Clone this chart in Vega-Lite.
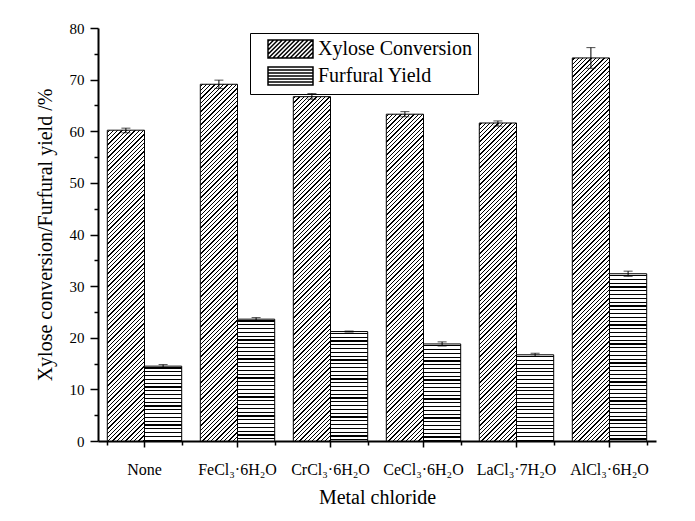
{
"$schema": "https://vega.github.io/schema/vega-lite/v6.json",
"autosize": {"type": "none"},
"padding": {"left": 98, "top": 28, "right": 39, "bottom": 80},
"width": 558,
"height": 413,
"background": "white",
"config": {"view": {"stroke": null}, "font": "Liberation Serif", "axis": {"grid": false}},
"params": [{"name": "hatch", "value": [
{"offset":0.0035,"color":"#fff"},{"offset":0.0035,"color":"#000"},{"offset":0.0065,"color":"#000"},{"offset":0.0065,"color":"#fff"},
{"offset":0.0135,"color":"#fff"},{"offset":0.0135,"color":"#000"},{"offset":0.0165,"color":"#000"},{"offset":0.0165,"color":"#fff"},
{"offset":0.0235,"color":"#fff"},{"offset":0.0235,"color":"#000"},{"offset":0.0265,"color":"#000"},{"offset":0.0265,"color":"#fff"},
{"offset":0.0335,"color":"#fff"},{"offset":0.0335,"color":"#000"},{"offset":0.0365,"color":"#000"},{"offset":0.0365,"color":"#fff"},
{"offset":0.0435,"color":"#fff"},{"offset":0.0435,"color":"#000"},{"offset":0.0465,"color":"#000"},{"offset":0.0465,"color":"#fff"},
{"offset":0.0535,"color":"#fff"},{"offset":0.0535,"color":"#000"},{"offset":0.0565,"color":"#000"},{"offset":0.0565,"color":"#fff"},
{"offset":0.0635,"color":"#fff"},{"offset":0.0635,"color":"#000"},{"offset":0.0665,"color":"#000"},{"offset":0.0665,"color":"#fff"},
{"offset":0.0735,"color":"#fff"},{"offset":0.0735,"color":"#000"},{"offset":0.0765,"color":"#000"},{"offset":0.0765,"color":"#fff"},
{"offset":0.0835,"color":"#fff"},{"offset":0.0835,"color":"#000"},{"offset":0.0865,"color":"#000"},{"offset":0.0865,"color":"#fff"},
{"offset":0.0935,"color":"#fff"},{"offset":0.0935,"color":"#000"},{"offset":0.0965,"color":"#000"},{"offset":0.0965,"color":"#fff"},
{"offset":0.1035,"color":"#fff"},{"offset":0.1035,"color":"#000"},{"offset":0.1065,"color":"#000"},{"offset":0.1065,"color":"#fff"},
{"offset":0.1135,"color":"#fff"},{"offset":0.1135,"color":"#000"},{"offset":0.1165,"color":"#000"},{"offset":0.1165,"color":"#fff"},
{"offset":0.1235,"color":"#fff"},{"offset":0.1235,"color":"#000"},{"offset":0.1265,"color":"#000"},{"offset":0.1265,"color":"#fff"},
{"offset":0.1335,"color":"#fff"},{"offset":0.1335,"color":"#000"},{"offset":0.1365,"color":"#000"},{"offset":0.1365,"color":"#fff"},
{"offset":0.1435,"color":"#fff"},{"offset":0.1435,"color":"#000"},{"offset":0.1465,"color":"#000"},{"offset":0.1465,"color":"#fff"},
{"offset":0.1535,"color":"#fff"},{"offset":0.1535,"color":"#000"},{"offset":0.1565,"color":"#000"},{"offset":0.1565,"color":"#fff"},
{"offset":0.1635,"color":"#fff"},{"offset":0.1635,"color":"#000"},{"offset":0.1665,"color":"#000"},{"offset":0.1665,"color":"#fff"},
{"offset":0.1735,"color":"#fff"},{"offset":0.1735,"color":"#000"},{"offset":0.1765,"color":"#000"},{"offset":0.1765,"color":"#fff"},
{"offset":0.1835,"color":"#fff"},{"offset":0.1835,"color":"#000"},{"offset":0.1865,"color":"#000"},{"offset":0.1865,"color":"#fff"},
{"offset":0.1935,"color":"#fff"},{"offset":0.1935,"color":"#000"},{"offset":0.1965,"color":"#000"},{"offset":0.1965,"color":"#fff"},
{"offset":0.2035,"color":"#fff"},{"offset":0.2035,"color":"#000"},{"offset":0.2065,"color":"#000"},{"offset":0.2065,"color":"#fff"},
{"offset":0.2135,"color":"#fff"},{"offset":0.2135,"color":"#000"},{"offset":0.2165,"color":"#000"},{"offset":0.2165,"color":"#fff"},
{"offset":0.2235,"color":"#fff"},{"offset":0.2235,"color":"#000"},{"offset":0.2265,"color":"#000"},{"offset":0.2265,"color":"#fff"},
{"offset":0.2335,"color":"#fff"},{"offset":0.2335,"color":"#000"},{"offset":0.2365,"color":"#000"},{"offset":0.2365,"color":"#fff"},
{"offset":0.2435,"color":"#fff"},{"offset":0.2435,"color":"#000"},{"offset":0.2465,"color":"#000"},{"offset":0.2465,"color":"#fff"},
{"offset":0.2535,"color":"#fff"},{"offset":0.2535,"color":"#000"},{"offset":0.2565,"color":"#000"},{"offset":0.2565,"color":"#fff"},
{"offset":0.2635,"color":"#fff"},{"offset":0.2635,"color":"#000"},{"offset":0.2665,"color":"#000"},{"offset":0.2665,"color":"#fff"},
{"offset":0.2735,"color":"#fff"},{"offset":0.2735,"color":"#000"},{"offset":0.2765,"color":"#000"},{"offset":0.2765,"color":"#fff"},
{"offset":0.2835,"color":"#fff"},{"offset":0.2835,"color":"#000"},{"offset":0.2865,"color":"#000"},{"offset":0.2865,"color":"#fff"},
{"offset":0.2935,"color":"#fff"},{"offset":0.2935,"color":"#000"},{"offset":0.2965,"color":"#000"},{"offset":0.2965,"color":"#fff"},
{"offset":0.3035,"color":"#fff"},{"offset":0.3035,"color":"#000"},{"offset":0.3065,"color":"#000"},{"offset":0.3065,"color":"#fff"},
{"offset":0.3135,"color":"#fff"},{"offset":0.3135,"color":"#000"},{"offset":0.3165,"color":"#000"},{"offset":0.3165,"color":"#fff"},
{"offset":0.3235,"color":"#fff"},{"offset":0.3235,"color":"#000"},{"offset":0.3265,"color":"#000"},{"offset":0.3265,"color":"#fff"},
{"offset":0.3335,"color":"#fff"},{"offset":0.3335,"color":"#000"},{"offset":0.3365,"color":"#000"},{"offset":0.3365,"color":"#fff"},
{"offset":0.3435,"color":"#fff"},{"offset":0.3435,"color":"#000"},{"offset":0.3465,"color":"#000"},{"offset":0.3465,"color":"#fff"},
{"offset":0.3535,"color":"#fff"},{"offset":0.3535,"color":"#000"},{"offset":0.3565,"color":"#000"},{"offset":0.3565,"color":"#fff"},
{"offset":0.3635,"color":"#fff"},{"offset":0.3635,"color":"#000"},{"offset":0.3665,"color":"#000"},{"offset":0.3665,"color":"#fff"},
{"offset":0.3735,"color":"#fff"},{"offset":0.3735,"color":"#000"},{"offset":0.3765,"color":"#000"},{"offset":0.3765,"color":"#fff"},
{"offset":0.3835,"color":"#fff"},{"offset":0.3835,"color":"#000"},{"offset":0.3865,"color":"#000"},{"offset":0.3865,"color":"#fff"},
{"offset":0.3935,"color":"#fff"},{"offset":0.3935,"color":"#000"},{"offset":0.3965,"color":"#000"},{"offset":0.3965,"color":"#fff"},
{"offset":0.4035,"color":"#fff"},{"offset":0.4035,"color":"#000"},{"offset":0.4065,"color":"#000"},{"offset":0.4065,"color":"#fff"},
{"offset":0.4135,"color":"#fff"},{"offset":0.4135,"color":"#000"},{"offset":0.4165,"color":"#000"},{"offset":0.4165,"color":"#fff"},
{"offset":0.4235,"color":"#fff"},{"offset":0.4235,"color":"#000"},{"offset":0.4265,"color":"#000"},{"offset":0.4265,"color":"#fff"},
{"offset":0.4335,"color":"#fff"},{"offset":0.4335,"color":"#000"},{"offset":0.4365,"color":"#000"},{"offset":0.4365,"color":"#fff"},
{"offset":0.4435,"color":"#fff"},{"offset":0.4435,"color":"#000"},{"offset":0.4465,"color":"#000"},{"offset":0.4465,"color":"#fff"},
{"offset":0.4535,"color":"#fff"},{"offset":0.4535,"color":"#000"},{"offset":0.4565,"color":"#000"},{"offset":0.4565,"color":"#fff"},
{"offset":0.4635,"color":"#fff"},{"offset":0.4635,"color":"#000"},{"offset":0.4665,"color":"#000"},{"offset":0.4665,"color":"#fff"},
{"offset":0.4735,"color":"#fff"},{"offset":0.4735,"color":"#000"},{"offset":0.4765,"color":"#000"},{"offset":0.4765,"color":"#fff"},
{"offset":0.4835,"color":"#fff"},{"offset":0.4835,"color":"#000"},{"offset":0.4865,"color":"#000"},{"offset":0.4865,"color":"#fff"},
{"offset":0.4935,"color":"#fff"},{"offset":0.4935,"color":"#000"},{"offset":0.4965,"color":"#000"},{"offset":0.4965,"color":"#fff"},
{"offset":0.5035,"color":"#fff"},{"offset":0.5035,"color":"#000"},{"offset":0.5065,"color":"#000"},{"offset":0.5065,"color":"#fff"},
{"offset":0.5135,"color":"#fff"},{"offset":0.5135,"color":"#000"},{"offset":0.5165,"color":"#000"},{"offset":0.5165,"color":"#fff"},
{"offset":0.5235,"color":"#fff"},{"offset":0.5235,"color":"#000"},{"offset":0.5265,"color":"#000"},{"offset":0.5265,"color":"#fff"},
{"offset":0.5335,"color":"#fff"},{"offset":0.5335,"color":"#000"},{"offset":0.5365,"color":"#000"},{"offset":0.5365,"color":"#fff"},
{"offset":0.5435,"color":"#fff"},{"offset":0.5435,"color":"#000"},{"offset":0.5465,"color":"#000"},{"offset":0.5465,"color":"#fff"},
{"offset":0.5535,"color":"#fff"},{"offset":0.5535,"color":"#000"},{"offset":0.5565,"color":"#000"},{"offset":0.5565,"color":"#fff"},
{"offset":0.5635,"color":"#fff"},{"offset":0.5635,"color":"#000"},{"offset":0.5665,"color":"#000"},{"offset":0.5665,"color":"#fff"},
{"offset":0.5735,"color":"#fff"},{"offset":0.5735,"color":"#000"},{"offset":0.5765,"color":"#000"},{"offset":0.5765,"color":"#fff"},
{"offset":0.5835,"color":"#fff"},{"offset":0.5835,"color":"#000"},{"offset":0.5865,"color":"#000"},{"offset":0.5865,"color":"#fff"},
{"offset":0.5935,"color":"#fff"},{"offset":0.5935,"color":"#000"},{"offset":0.5965,"color":"#000"},{"offset":0.5965,"color":"#fff"},
{"offset":0.6035,"color":"#fff"},{"offset":0.6035,"color":"#000"},{"offset":0.6065,"color":"#000"},{"offset":0.6065,"color":"#fff"},
{"offset":0.6135,"color":"#fff"},{"offset":0.6135,"color":"#000"},{"offset":0.6165,"color":"#000"},{"offset":0.6165,"color":"#fff"},
{"offset":0.6235,"color":"#fff"},{"offset":0.6235,"color":"#000"},{"offset":0.6265,"color":"#000"},{"offset":0.6265,"color":"#fff"},
{"offset":0.6335,"color":"#fff"},{"offset":0.6335,"color":"#000"},{"offset":0.6365,"color":"#000"},{"offset":0.6365,"color":"#fff"},
{"offset":0.6435,"color":"#fff"},{"offset":0.6435,"color":"#000"},{"offset":0.6465,"color":"#000"},{"offset":0.6465,"color":"#fff"},
{"offset":0.6535,"color":"#fff"},{"offset":0.6535,"color":"#000"},{"offset":0.6565,"color":"#000"},{"offset":0.6565,"color":"#fff"},
{"offset":0.6635,"color":"#fff"},{"offset":0.6635,"color":"#000"},{"offset":0.6665,"color":"#000"},{"offset":0.6665,"color":"#fff"},
{"offset":0.6735,"color":"#fff"},{"offset":0.6735,"color":"#000"},{"offset":0.6765,"color":"#000"},{"offset":0.6765,"color":"#fff"},
{"offset":0.6835,"color":"#fff"},{"offset":0.6835,"color":"#000"},{"offset":0.6865,"color":"#000"},{"offset":0.6865,"color":"#fff"},
{"offset":0.6935,"color":"#fff"},{"offset":0.6935,"color":"#000"},{"offset":0.6965,"color":"#000"},{"offset":0.6965,"color":"#fff"},
{"offset":0.7035,"color":"#fff"},{"offset":0.7035,"color":"#000"},{"offset":0.7065,"color":"#000"},{"offset":0.7065,"color":"#fff"},
{"offset":0.7135,"color":"#fff"},{"offset":0.7135,"color":"#000"},{"offset":0.7165,"color":"#000"},{"offset":0.7165,"color":"#fff"},
{"offset":0.7235,"color":"#fff"},{"offset":0.7235,"color":"#000"},{"offset":0.7265,"color":"#000"},{"offset":0.7265,"color":"#fff"},
{"offset":0.7335,"color":"#fff"},{"offset":0.7335,"color":"#000"},{"offset":0.7365,"color":"#000"},{"offset":0.7365,"color":"#fff"},
{"offset":0.7435,"color":"#fff"},{"offset":0.7435,"color":"#000"},{"offset":0.7465,"color":"#000"},{"offset":0.7465,"color":"#fff"},
{"offset":0.7535,"color":"#fff"},{"offset":0.7535,"color":"#000"},{"offset":0.7565,"color":"#000"},{"offset":0.7565,"color":"#fff"},
{"offset":0.7635,"color":"#fff"},{"offset":0.7635,"color":"#000"},{"offset":0.7665,"color":"#000"},{"offset":0.7665,"color":"#fff"},
{"offset":0.7735,"color":"#fff"},{"offset":0.7735,"color":"#000"},{"offset":0.7765,"color":"#000"},{"offset":0.7765,"color":"#fff"},
{"offset":0.7835,"color":"#fff"},{"offset":0.7835,"color":"#000"},{"offset":0.7865,"color":"#000"},{"offset":0.7865,"color":"#fff"},
{"offset":0.7935,"color":"#fff"},{"offset":0.7935,"color":"#000"},{"offset":0.7965,"color":"#000"},{"offset":0.7965,"color":"#fff"},
{"offset":0.8035,"color":"#fff"},{"offset":0.8035,"color":"#000"},{"offset":0.8065,"color":"#000"},{"offset":0.8065,"color":"#fff"},
{"offset":0.8135,"color":"#fff"},{"offset":0.8135,"color":"#000"},{"offset":0.8165,"color":"#000"},{"offset":0.8165,"color":"#fff"},
{"offset":0.8235,"color":"#fff"},{"offset":0.8235,"color":"#000"},{"offset":0.8265,"color":"#000"},{"offset":0.8265,"color":"#fff"},
{"offset":0.8335,"color":"#fff"},{"offset":0.8335,"color":"#000"},{"offset":0.8365,"color":"#000"},{"offset":0.8365,"color":"#fff"},
{"offset":0.8435,"color":"#fff"},{"offset":0.8435,"color":"#000"},{"offset":0.8465,"color":"#000"},{"offset":0.8465,"color":"#fff"},
{"offset":0.8535,"color":"#fff"},{"offset":0.8535,"color":"#000"},{"offset":0.8565,"color":"#000"},{"offset":0.8565,"color":"#fff"},
{"offset":0.8635,"color":"#fff"},{"offset":0.8635,"color":"#000"},{"offset":0.8665,"color":"#000"},{"offset":0.8665,"color":"#fff"},
{"offset":0.8735,"color":"#fff"},{"offset":0.8735,"color":"#000"},{"offset":0.8765,"color":"#000"},{"offset":0.8765,"color":"#fff"},
{"offset":0.8835,"color":"#fff"},{"offset":0.8835,"color":"#000"},{"offset":0.8865,"color":"#000"},{"offset":0.8865,"color":"#fff"},
{"offset":0.8935,"color":"#fff"},{"offset":0.8935,"color":"#000"},{"offset":0.8965,"color":"#000"},{"offset":0.8965,"color":"#fff"},
{"offset":0.9035,"color":"#fff"},{"offset":0.9035,"color":"#000"},{"offset":0.9065,"color":"#000"},{"offset":0.9065,"color":"#fff"},
{"offset":0.9135,"color":"#fff"},{"offset":0.9135,"color":"#000"},{"offset":0.9165,"color":"#000"},{"offset":0.9165,"color":"#fff"},
{"offset":0.9235,"color":"#fff"},{"offset":0.9235,"color":"#000"},{"offset":0.9265,"color":"#000"},{"offset":0.9265,"color":"#fff"},
{"offset":0.9335,"color":"#fff"},{"offset":0.9335,"color":"#000"},{"offset":0.9365,"color":"#000"},{"offset":0.9365,"color":"#fff"},
{"offset":0.9435,"color":"#fff"},{"offset":0.9435,"color":"#000"},{"offset":0.9465,"color":"#000"},{"offset":0.9465,"color":"#fff"},
{"offset":0.9535,"color":"#fff"},{"offset":0.9535,"color":"#000"},{"offset":0.9565,"color":"#000"},{"offset":0.9565,"color":"#fff"},
{"offset":0.9635,"color":"#fff"},{"offset":0.9635,"color":"#000"},{"offset":0.9665,"color":"#000"},{"offset":0.9665,"color":"#fff"},
{"offset":0.9735,"color":"#fff"},{"offset":0.9735,"color":"#000"},{"offset":0.9765,"color":"#000"},{"offset":0.9765,"color":"#fff"},
{"offset":0.9835,"color":"#fff"},{"offset":0.9835,"color":"#000"},{"offset":0.9865,"color":"#000"},{"offset":0.9865,"color":"#fff"},
{"offset":0.9935,"color":"#fff"},{"offset":0.9935,"color":"#000"},{"offset":0.9965,"color":"#000"},{"offset":0.9965,"color":"#fff"}
]}],
"data": {"values": [
{"metal": "None", "series": "Xylose Conversion", "value": 60.2, "lo": 59.7, "hi": 60.6},
{"metal": "None", "series": "Furfural Yield", "value": 14.5, "lo": 14.2, "hi": 14.8},
{"metal": "FeCl₃·6H₂O", "series": "Xylose Conversion", "value": 69.1, "lo": 68.3, "hi": 69.9},
{"metal": "FeCl₃·6H₂O", "series": "Furfural Yield", "value": 23.6, "lo": 23.3, "hi": 23.9},
{"metal": "CrCl₃·6H₂O", "series": "Xylose Conversion", "value": 66.7, "lo": 66.2, "hi": 67.3},
{"metal": "CrCl₃·6H₂O", "series": "Furfural Yield", "value": 21.2, "lo": 21.1, "hi": 21.3},
{"metal": "CeCl₃·6H₂O", "series": "Xylose Conversion", "value": 63.3, "lo": 62.8, "hi": 63.8},
{"metal": "CeCl₃·6H₂O", "series": "Furfural Yield", "value": 18.8, "lo": 18.4, "hi": 19.2},
{"metal": "LaCl₃·7H₂O", "series": "Xylose Conversion", "value": 61.6, "lo": 61.0, "hi": 62.0},
{"metal": "LaCl₃·7H₂O", "series": "Furfural Yield", "value": 16.7, "lo": 16.4, "hi": 17.0},
{"metal": "AlCl₃·6H₂O", "series": "Xylose Conversion", "value": 74.2, "lo": 72.2, "hi": 76.2},
{"metal": "AlCl₃·6H₂O", "series": "Furfural Yield", "value": 32.4, "lo": 31.9, "hi": 32.9}
]},
"encoding": {
"xOffset": {"field": "series", "type": "nominal", "sort": ["Xylose Conversion", "Furfural Yield"], "scale": {"paddingInner": 0, "paddingOuter": 0}}
},
"layer": [
{
"mark": {"type": "bar", "stroke": "black", "strokeWidth": 1, "fill": {"expr": "datum.series === 'Xylose Conversion' ? {gradient: 'linear', x1: 0, y1: 0, x2: 37.2 * 430 / (1383.84 + pow(scale('y', 0) - scale('y', datum.value), 2)), y2: (scale('y', 0) - scale('y', datum.value)) * 430 / (1383.84 + pow(scale('y', 0) - scale('y', datum.value), 2)), stops: hatch} : {gradient: 'linear', x1: 0, y1: 0, x2: 0.000001, y2: 380 / (scale('y', 0) - scale('y', datum.value)), stops: hatch}"}},
"encoding": {
"x": {"field": "metal", "type": "nominal", "sort": null, "scale": {"paddingInner": 0.2, "paddingOuter": 0.1},
"axis": {"title": "Metal chloride", "orient": "bottom", "labelAngle": 0, "tickSize": 6, "tickWidth": 1.5, "tickColor": "black", "domainColor": "black", "domainWidth": 2, "labelFont": "Liberation Serif", "labelFontSize": 16, "labelColor": "black", "labelPadding": 14, "titleFont": "Liberation Serif", "titleFontSize": 20, "titleFontWeight": "normal", "titleColor": "black", "titlePadding": 10}},
"y": {"field": "value", "type": "quantitative", "scale": {"domain": [0, 80], "nice": false},
"axis": {"title": "Xylose conversion/Furfural yield /%", "orient": "left", "values": [0,10,20,30,40,50,60,70,80], "tickSize": 8, "tickWidth": 1.5, "tickColor": "black", "domainColor": "black", "domainWidth": 2, "labelFont": "Liberation Serif", "labelFontSize": 15, "labelColor": "black", "labelPadding": 6, "titleFont": "Liberation Serif", "titleFontSize": 20, "titleFontWeight": "normal", "titleColor": "black", "titlePadding": 14}}
}
},
{
"mark": {"type": "rule", "color": "black", "strokeWidth": 1},
"encoding": {
"x": {"field": "metal", "type": "nominal", "sort": null, "axis": null},
"y": {"field": "lo", "type": "quantitative",
"axis": {"orient": "left", "title": null, "labels": false, "domain": false, "values": [5,15,25,35,45,55,65,75], "tickSize": 4, "tickWidth": 1.5, "tickColor": "black"}},
"y2": {"field": "hi"}
}
},
{
"mark": {"type": "tick", "color": "black", "thickness": 1, "size": 9},
"encoding": {
"x": {"field": "metal", "type": "nominal", "sort": null, "axis": null},
"y": {"field": "hi", "type": "quantitative", "axis": null}
}
},
{
"mark": {"type": "tick", "color": "black", "thickness": 1, "size": 9},
"encoding": {
"x": {"field": "metal", "type": "nominal", "sort": null, "axis": null},
"y": {"field": "lo", "type": "quantitative", "axis": null}
}
},
{
"mark": {"type": "point", "opacity": 0, "fill": "white", "stroke": "black", "strokeWidth": 1},
"encoding": {
"x": {"field": "metal", "type": "nominal", "sort": null,
"axis": {"orient": "bottom", "title": null, "labels": false, "domain": false, "tickBand": "extent", "tickSize": 4, "tickWidth": 1.5, "tickColor": "black"}},
"y": {"field": "value", "type": "quantitative", "axis": null},
"shape": {"field": "series", "type": "nominal",
"scale": {"domain": ["Xylose Conversion", "Furfural Yield"], "range": [
"M0.4,-1.8H9.4V1.8H0.4Z M0.4,-1.52L0.68,-1.8 M0.4,-0.66L1.54,-1.8 M0.4,0.2L2.4,-1.8 M0.4,1.06L3.26,-1.8 M0.52,1.8L4.12,-1.8 M1.38,1.8L4.98,-1.8 M2.24,1.8L5.84,-1.8 M3.1,1.8L6.7,-1.8 M3.96,1.8L7.56,-1.8 M4.82,1.8L8.42,-1.8 M5.68,1.8L9.28,-1.8 M6.54,1.8L9.4,-1.06 M7.4,1.8L9.4,-0.2 M8.26,1.8L9.4,0.66 M9.12,1.8L9.4,1.52",
"M0.4,-1.8H9.4V1.8H0.4Z M0.4,-1.2H9.4 M0.4,-0.6H9.4 M0.4,0H9.4 M0.4,0.6H9.4 M0.4,1.2H9.4"
]},
"legend": {"orient": "none", "legendX": 152, "legendY": 5, "title": null, "strokeColor": "black", "padding": 6, "symbolSize": 100, "labelFont": "Liberation Serif", "labelFontSize": 20, "labelColor": "black", "labelOffset": 42, "rowPadding": 3, "labelLimit": 300,
"encode": {"symbols": {"update": {"fill": {"value": "white"}, "stroke": {"value": "black"}, "strokeWidth": {"value": 1}, "opacity": {"value": 1}, "fillOpacity": {"value": 1}, "strokeOpacity": {"value": 1}, "size": {"value": 100}}}}}
}
}
}
],
"resolve": {"axis": {"x": "independent", "y": "independent"}}
}
